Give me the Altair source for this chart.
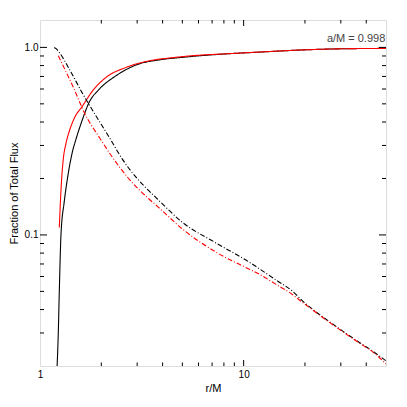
import altair as alt
import pandas as pd

# ---- data ----
bs_r = [1.208, 1.230, 1.244, 1.268, 1.315, 1.362, 1.441, 1.502, 1.60, 1.746, 1.956, 2.362, 3.0, 3.855, 5.0, 7.86, 12.0, 20.25, 30.0, 50.0]
bs_f = [0.018, 0.0303, 0.0502, 0.1007, 0.15, 0.198, 0.276, 0.324, 0.40, 0.511, 0.599, 0.706, 0.81, 0.858, 0.885, 0.921, 0.944, 0.971, 0.983, 0.988]

rs_r = [1.244, 1.258, 1.277, 1.301, 1.339, 1.393, 1.474, 1.619, 1.813, 2.110, 2.645, 3.441, 4.5, 6.0, 8.0, 12.0, 20.0, 30.0, 50.0]
rs_f = [0.1096, 0.146, 0.198, 0.2535, 0.305, 0.3575, 0.4195, 0.488, 0.587, 0.692, 0.782, 0.848, 0.882, 0.908, 0.923, 0.945, 0.971, 0.983, 0.988]

bd_r = [1.175, 1.20, 1.244, 1.393, 1.619, 1.884, 2.190, 2.537, 2.961, 3.441, 3.781, 5.017, 7.318, 10.67, 11.94, 14.42, 17.41, 19.49, 21.83, 25.39, 30.64, 37.01, 43.0, 50.0]
bd_f = [1.0, 0.985, 0.940, 0.766, 0.567, 0.431, 0.331, 0.2535, 0.2032, 0.171, 0.155, 0.1164, 0.0906, 0.0715, 0.0660, 0.0575, 0.0500, 0.0444, 0.0401, 0.0355, 0.0307, 0.0267, 0.0240, 0.0213]

rd_r = [1.230, 1.446, 1.682, 1.956, 2.265, 2.746, 3.441, 3.781, 5.017, 7.318, 10.67, 11.94, 14.42, 17.41, 19.49, 21.83, 25.39, 30.64, 37.01, 43.0, 50.0]
rd_f = [0.902, 0.624, 0.431, 0.331, 0.260, 0.198, 0.155, 0.1417, 0.1073, 0.0809, 0.0656, 0.0617, 0.0545, 0.048, 0.0436, 0.0398, 0.0352, 0.0305, 0.0265, 0.0238, 0.0205]

series_names = ["black solid", "red solid", "black dashdot", "red dashdot"]
series_colors = ["#000000", "#ff0000", "#000000", "#ff0000"]
series_dash = [[1, 0], [1, 0], [5, 2, 1, 2], [5, 2, 1, 2]]

x_minor = [2, 3, 4, 5, 6, 7, 8, 9, 20, 30, 40]
x_major = [10]
y_minor = [0.03, 0.04, 0.05, 0.06, 0.07, 0.08, 0.09, 0.2, 0.3, 0.4, 0.5, 0.6, 0.7, 0.8, 0.9]
y_major = [0.1, 1.0]

x_labels = [1, 10]
y_labels = [0.1, 1.0]
x_domain = [1, 50]
y_domain = [0.02, 1.4]

note_r = [49.6]
note_f = [1.075]
note_text = ["a/M = 0.998"]

W, H = 346, 346
FONT = "Liberation Sans"

rows = []
for name, rr, ff in zip(series_names, [bs_r, rs_r, bd_r, rd_r], [bs_f, rs_f, bd_f, rd_f]):
    for i, (a, b) in enumerate(zip(rr, ff)):
        rows.append({"r": a, "f": b, "series": name, "order": i})
df = pd.DataFrame(rows)

xs = alt.Scale(type="log", domain=x_domain, nice=False)
ys = alt.Scale(type="log", domain=y_domain, nice=False)
xaxis = alt.Axis(values=x_labels, format="d", ticks=False, domain=False, grid=False,
                 labelPadding=3, title="r/M", titlePadding=3, labelFlush=False,
                 titleFontWeight="normal")
yaxis = alt.Axis(values=y_labels, format=".1f", ticks=False, domain=False, grid=False,
                 labelPadding=2, title="Fraction of Total Flux", titlePadding=5,
                 titleFontWeight="normal")
xenc = alt.X("r:Q", scale=xs, axis=xaxis)
yenc = alt.Y("f:Q", scale=ys, axis=yaxis)

lines = alt.Chart(df).mark_line(strokeWidth=1.1, clip=True, interpolate="monotone").encode(
    x=xenc, y=yenc,
    color=alt.Color("series:N", scale=alt.Scale(domain=series_names, range=series_colors), legend=None),
    strokeDash=alt.StrokeDash("series:N", scale=alt.Scale(domain=series_names, range=series_dash), legend=None),
    order="order:Q",
    detail="series:N",
)

def xticks(vals, ln):
    d = pd.DataFrame({"r": vals})
    bot = alt.Chart(d).mark_rule(color="black", strokeWidth=1).encode(x=xenc, y=alt.value(H), y2=alt.value(H - ln))
    top = alt.Chart(d).mark_rule(color="black", strokeWidth=1).encode(x=xenc, y=alt.value(0), y2=alt.value(ln))
    return [bot, top]

def yticks(vals, ln):
    d = pd.DataFrame({"f": vals})
    left = alt.Chart(d).mark_rule(color="black", strokeWidth=1).encode(y=yenc, x=alt.value(0), x2=alt.value(ln))
    right = alt.Chart(d).mark_rule(color="black", strokeWidth=1).encode(y=yenc, x=alt.value(W), x2=alt.value(W - ln))
    return [left, right]

note = alt.Chart(pd.DataFrame({"r": note_r, "f": note_f, "t": note_text})).mark_text(
    align="right", baseline="alphabetic", font=FONT, fontSize=11, color="#444444"
).encode(x=xenc, y=yenc, text="t:N")

layers = [lines] + xticks(x_minor, 3.5) + xticks(x_major, 6) + yticks(y_minor, 4) + yticks(y_major, 7) + [note]

chart = alt.layer(*layers).properties(
    width=W, height=H,
    padding={"left": 32, "top": 12, "right": 12, "bottom": 32},
    autosize="none",
).configure_view(stroke="black", strokeWidth=1).configure_axis(
    labelFont=FONT, titleFont=FONT, labelFontSize=10, titleFontSize=10,
    labelColor="#222222", titleColor="#222222", titleFontWeight="normal",
).configure(background="white")

chart.save("out.html", embed_options={"renderer": "svg", "actions": False})
